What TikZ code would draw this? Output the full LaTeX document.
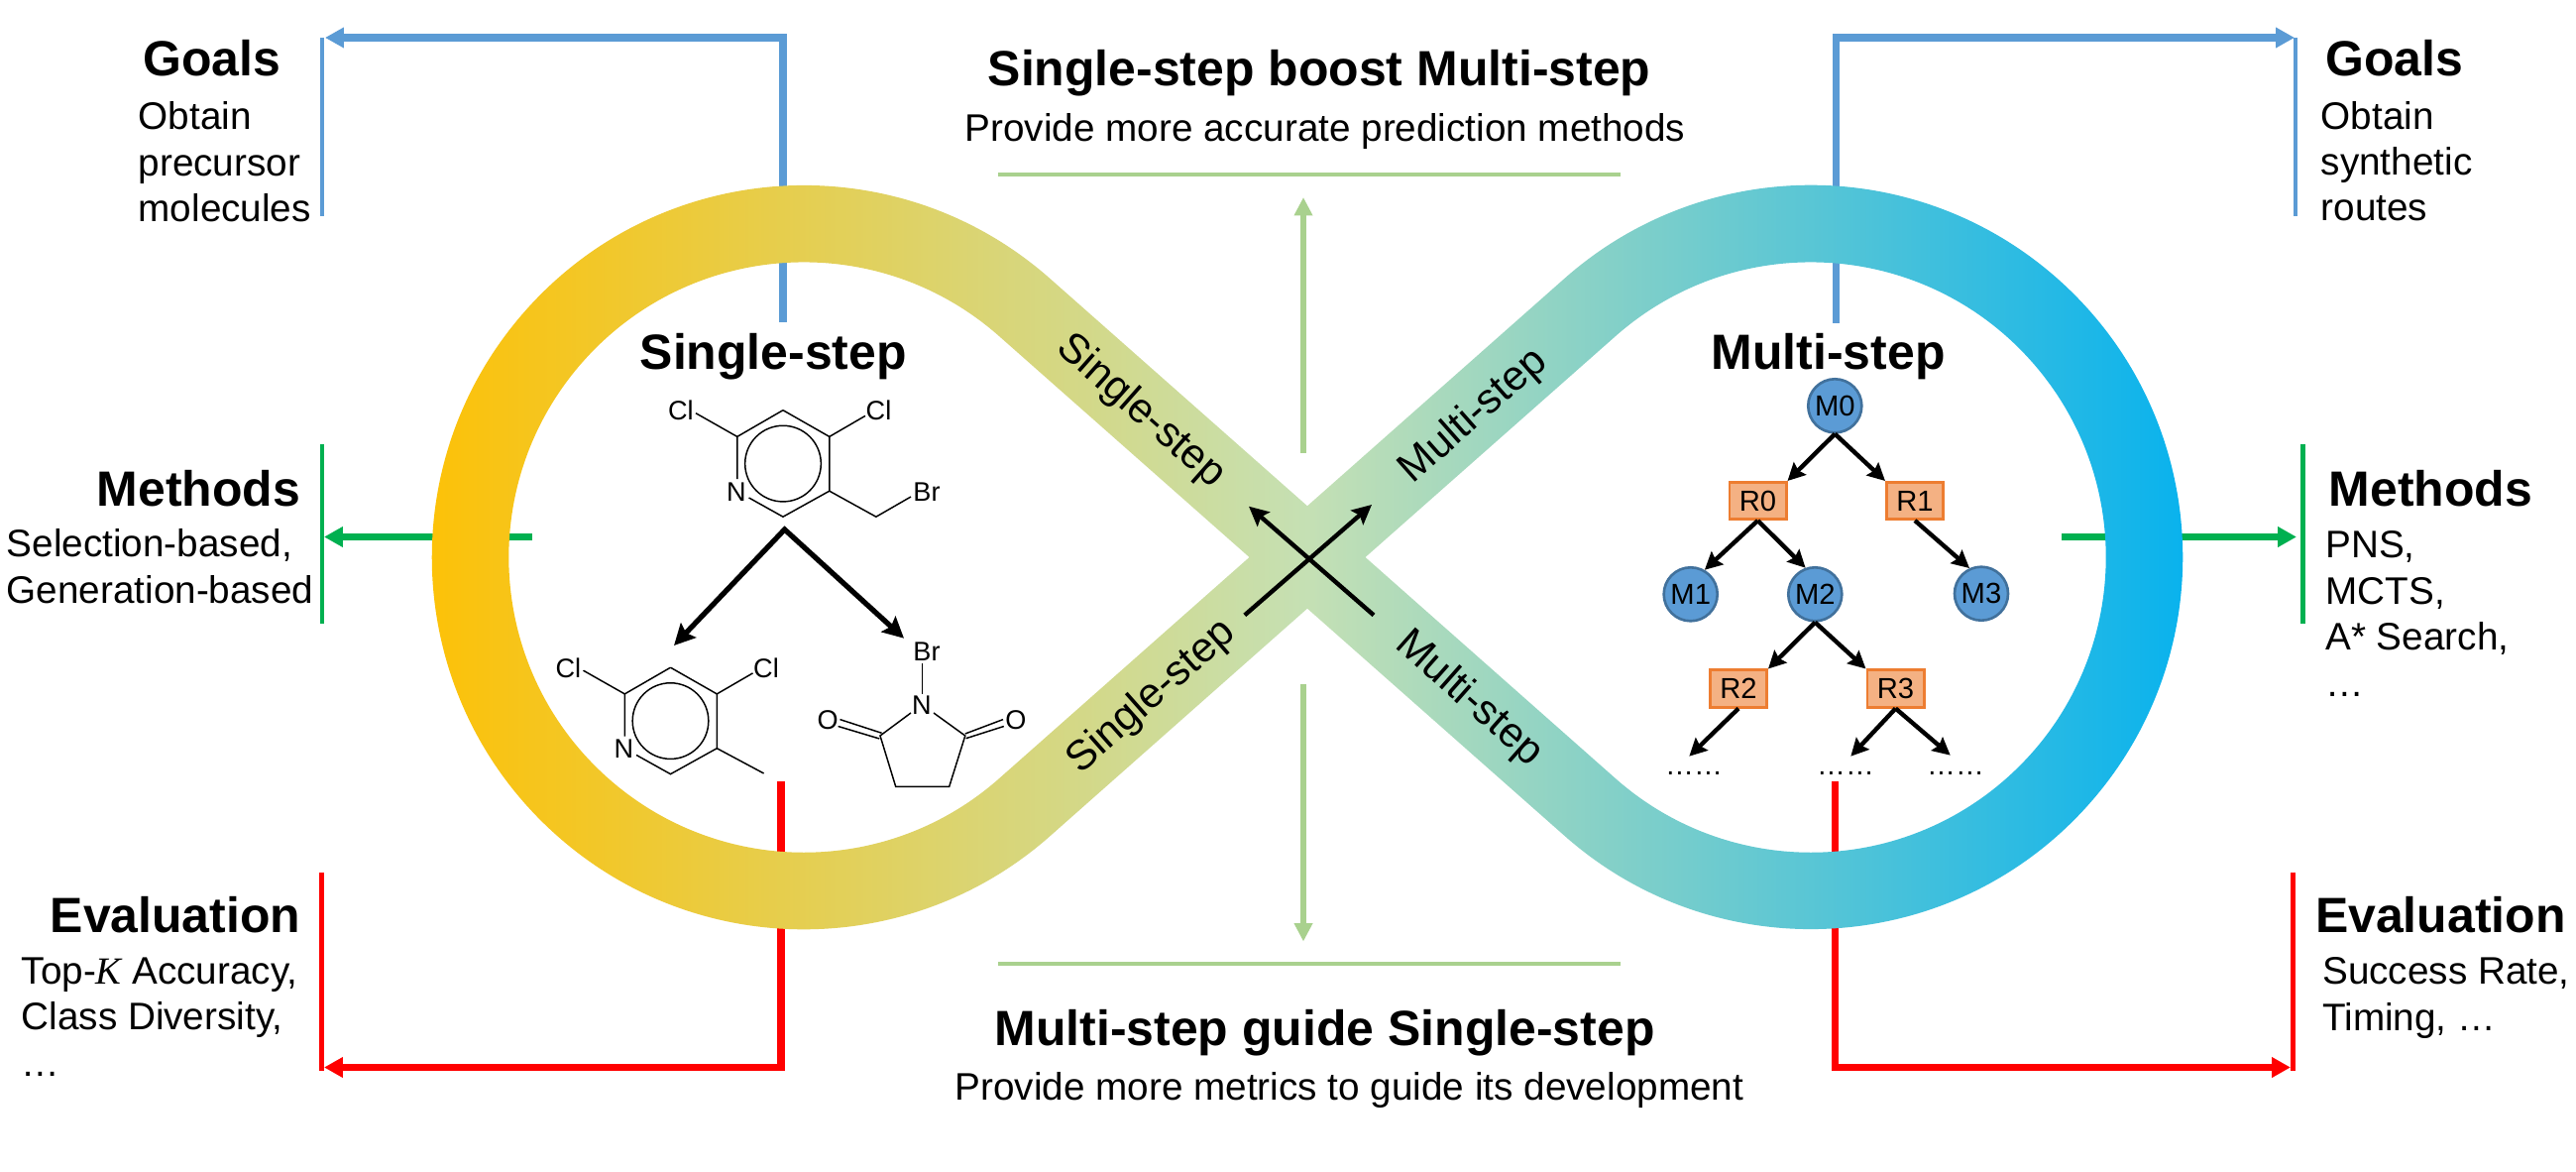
\documentclass[tikz,border=0pt]{standalone}
\usepackage{fontspec}
\setmainfont{Liberation Sans}
\newfontfamily\kfont{Liberation Serif}
\usetikzlibrary{arrows.meta,calc}
\definecolor{cblue}{HTML}{5B9BD5}
\definecolor{cgreen}{HTML}{00B050}
\definecolor{cred}{HTML}{FF0000}
\definecolor{clight}{HTML}{A9D18E}
\definecolor{bandL}{HTML}{FFC000}
\definecolor{bandM}{HTML}{C5E0B4}
\definecolor{bandR}{HTML}{00B0F0}
\definecolor{molfill}{HTML}{5B9BD5}
\definecolor{molline}{HTML}{41719C}
\definecolor{rxfill}{HTML}{F4B183}
\definecolor{rxline}{HTML}{ED7D31}
\tikzset{
  head/.style={inner sep=0pt,anchor=base west,font=\fontsize{14.2}{16}\bfseries\selectfont},
  body/.style={inner sep=0pt,anchor=base west,align=left,font=\fontsize{11}{13.22}\selectfont},
  bandtext/.style={inner sep=0pt,font=\fontsize{12}{14}\selectfont},
  atom/.style={inner sep=0pt,font=\fontsize{7.7}{9}\selectfont},
  bond/.style={line width=0.42pt,black},
  conn/.style={line width=2pt,-{Triangle[length=5.4pt,width=5.6pt]}},
  bar/.style={line width=1.4pt},
  softarrow/.style={line width=1.8pt,clight,-{Triangle[length=5.2pt,width=5pt]}},
  softbar/.style={line width=1.4pt,clight},
  rxnarrow/.style={line width=1.5pt,black,{Stealth[length=6pt,width=6pt,inset=1pt]}-{Stealth[length=6pt,width=6pt,inset=1pt]}},
  bigarrow/.style={line width=1.25pt,black,-{Stealth[length=5.6pt,width=5.4pt,inset=1pt]}},
  treearrow/.style={line width=1.25pt,black,-{Stealth[length=5pt,width=5pt,inset=0.7pt]}},
  molnode/.style={circle,draw=molline,fill=molfill,line width=0.75pt,minimum size=0.54cm,inner sep=0pt,font=\fontsize{8.3}{10}\selectfont},
  rxnode/.style={rectangle,draw=rxline,fill=rxfill,line width=0.85pt,minimum width=0.57cm,minimum height=0.37cm,inner sep=0pt,font=\fontsize{8.3}{10}\selectfont},
  dotsnode/.style={inner sep=0pt,anchor=base,font=\fontsize{8.2}{10}\selectfont},
}
\newcommand{\pyr}{%
  \draw[bond] (790,413.7) -- (836.8,440.4) -- (836.8,495.2) -- (790,521.2) -- (755.6,502);
  \draw[bond] (790,413.7) -- (743.8,440.4) -- (743.8,483);
  \draw[bond] (790,467.6) circle[radius=0.383cm];
  \draw[bond] (743.8,440.4) -- (702,416.7);
  \draw[bond] (836.8,440.4) -- (873,419.4);
  \node[atom] at (743,496) {N};
  \node[atom] at (686.8,414) {Cl};
  \node[atom] at (886.5,414) {Cl};
}
\begin{document}
\begin{tikzpicture}[x=0.01cm,y=-0.01cm]
\path[fill=white] (0,0) rectangle (2599,1182);
\useasboundingbox (0,0) rectangle (2599,1182);
% connectors under the band
\coordinate (bl0) at (790,325); \coordinate (bl1) at (790,38); \coordinate (bl2) at (328,38);
\draw[conn,cblue] (bl0) -- (bl1) -- (bl2);
\coordinate (blbT) at (325,38); \coordinate (blbB) at (325,218.5);
\draw[bar,cblue] (blbT) -- (blbB);
\coordinate (gl0) at (537,541.5); \coordinate (gl1) at (327,541.5);
\draw[conn,cgreen] (gl0) -- (gl1);
\coordinate (glbT) at (325,448); \coordinate (glbB) at (325,629);
\draw[bar,cgreen] (glbT) -- (glbB);
\coordinate (rl0) at (788,788); \coordinate (rl1) at (788,1076.5); \coordinate (rl2) at (327,1076.5);
\draw[conn,cred] (rl0) -- (rl1) -- (rl2);
\coordinate (rlbT) at (324.5,880); \coordinate (rlbB) at (324.5,1080);
\draw[bar,cred] (rlbT) -- (rlbB);
\coordinate (br0) at (1852,326); \coordinate (br1) at (1852,38); \coordinate (br2) at (2315,38);
\draw[conn,cblue] (br0) -- (br1) -- (br2);
\coordinate (brbT) at (2316,38); \coordinate (brbB) at (2316,218.5);
\draw[bar,cblue] (brbT) -- (brbB);
\coordinate (gr0) at (2080,541.5); \coordinate (gr1) at (2317,541.5);
\draw[conn,cgreen] (gr0) -- (gr1);
\coordinate (grbT) at (2323.5,448); \coordinate (grbB) at (2323.5,629);
\draw[bar,cgreen] (grbT) -- (grbB);
\coordinate (rr0) at (1851,788); \coordinate (rr1) at (1851,1076.5); \coordinate (rr2) at (2311,1076.5);
\draw[conn,cred] (rr0) -- (rr1) -- (rr2);
\coordinate (rrbT) at (2313.6,880); \coordinate (rrbB) at (2313.6,1080);
\draw[bar,cred] (rrbT) -- (rrbB);
% band
\shade[left color=bandL,right color=bandR,middle color=bandM,even odd rule]
  (1319,510.3) -- (1059.3,280.9)
  arc[start angle=48.55,end angle=311.45,radius=3.75cm]
  -- (1319,613.7) -- (1578.7,843.1)
  arc[start angle=228.55,end angle=491.45,radius=3.75cm]
  -- cycle
  (1260.5,562) -- (1008,339)
  arc[start angle=48.55,end angle=311.45,radius=2.975cm]
  -- cycle
  (1377.5,562) -- (1630,339)
  arc[start angle=131.45,end angle=-131.45,radius=2.975cm]
  -- cycle;
% band labels
\node[bandtext,rotate=-41.5] (bsu) at (1151,415) {Single-step};
\node[bandtext,rotate=41.5] (bsd) at (1162,703) {Single-step};
\node[bandtext,rotate=41.5] (bmu) at (1487,420) {Multi-step};
\node[bandtext,rotate=-41.5] (bmd) at (1482,705) {Multi-step};
% centre cross
\coordinate (xa0) at (1255.8,620.4); \coordinate (xa1) at (1384,509);
\coordinate (xb0) at (1386,620.4); \coordinate (xb1) at (1260,510.7);
\draw[bigarrow] (xa0) -- (xa1);
\draw[bigarrow] (xb0) -- (xb1);
% centre top and bottom
\node[head] (ct) at (996,87) {Single-step boost Multi-step};
\node[body] (cts) at (973,143) {Provide more accurate prediction methods};
\coordinate (lt0) at (1007,176); \coordinate (lt1) at (1635,176);
\draw[softbar] (lt0) -- (lt1);
\coordinate (at0) at (1315,457); \coordinate (at1) at (1315,199);
\draw[softarrow] (at0) -- (at1);
\coordinate (ab0) at (1315,690); \coordinate (ab1) at (1315,949.5);
\draw[softarrow] (ab0) -- (ab1);
\coordinate (lb0) at (1007,972); \coordinate (lb1) at (1635,972);
\draw[softbar] (lb0) -- (lb1);
\node[head] (cb) at (1003,1054.5) {Multi-step guide Single-step};
\node[body] (cbs) at (963,1109) {Provide more metrics to guide its development};
% left texts
\node[head] (goalsL) at (143.5,76.5) {Goals};
\node[body] (goalsLt) at (139,223.5) {Obtain\\precursor\\molecules};
\node[head] (methL) at (97,510.5) {Methods};
\node[body] (methLt) at (6,608) {Selection-based,\\Generation-based};
\node[head] (evalL) at (50,940) {Evaluation};
\node[body] (evalLt) at (21,1085) {Top-{\kfont\itshape K} Accuracy,\\Class Diversity,\\…};
% right texts
\node[head] (goalsR) at (2345.7,76.5) {Goals};
\node[body] (goalsRt) at (2341,223) {Obtain\\synthetic\\routes};
\node[head] (methR) at (2349,510.5) {Methods};
\node[body] (methRt) at (2345.7,702) {PNS,\\MCTS,\\A* Search,\\…};
\node[head] (evalR) at (2335.4,940) {Evaluation};
\node[body] (evalRt) at (2342.6,1039) {Success Rate,\\Timing, …};
% single-step panel
\node[head] (sst) at (645,372.5) {Single-step};
\pyr
\draw[bond] (836.8,495.2) -- (883.9,521.2) -- (919,501);
\node[atom] at (935,496) {Br};
\begin{scope}[shift={(-113.5,259.5)}]
\pyr
\draw[bond] (836.8,495.2) -- (884.1,520.5);
\end{scope}
\coordinate (ra) at (791.6,534); \coordinate (rl) at (680,651); \coordinate (rr) at (912,643.7);
\draw[rxnarrow] (rl) -- (ra) -- (rr);
% NBS
\node[atom] at (935,657) {Br};
\node[atom] at (930,711.4) {N};
\node[atom] at (835.2,726) {O};
\node[atom] at (1025,726) {O};
\draw[bond] (930.5,669.3) -- (930.5,700);
\draw[bond] (919,719) -- (888,742) -- (903.7,793.3) -- (957.7,793.3) -- (973.8,742) -- (942,719);
\draw[bond] (847.5,725.6) -- (889.6,739.3);
\draw[bond] (845.6,732.5) -- (887.3,745);
\draw[bond] (973.8,740) -- (1012,725.6);
\draw[bond] (974.6,744.7) -- (1012.8,732.5);
% multi-step panel
\node[head] (mst) at (1726,372.5) {Multi-step};
\node[molnode] (M0) at (1851.3,409.3) {M0};
\node[rxnode] (R0) at (1773.5,505) {R0};
\node[rxnode] (R1) at (1932,505) {R1};
\node[molnode] (M1) at (1705.7,599.3) {M1};
\node[molnode] (M2) at (1831.3,599.3) {M2};
\node[molnode] (M3) at (1999,598.7) {M3};
\node[rxnode] (R2) at (1754,694.5) {R2};
\node[rxnode] (R3) at (1912.5,694.5) {R3};
\node[dotsnode] (d1) at (1709,781) {……};
\node[dotsnode] (d2) at (1862,781) {……};
\node[dotsnode] (d3) at (1973,781) {……};
\coordinate (d1t) at (1704.3,762.7);
\coordinate (d2t) at (1867.3,762.7);
\coordinate (d3t) at (1967.7,761.7);
\draw[treearrow] (M0.south) -- (R0.north east);
\draw[treearrow] (M0.south) -- (R1.north west);
\draw[treearrow] (R0.south) -- (M1.60);
\draw[treearrow] (R0.south) -- (M2.110);
\draw[treearrow] (R1.south) -- (M3.115);
\draw[treearrow] (M2.south) -- (R2.north east);
\draw[treearrow] (M2.south) -- (R3.north west);
\draw[treearrow] (R2.south) -- (d1t);
\draw[treearrow] (R3.south) -- (d2t);
\draw[treearrow] (R3.south) -- (d3t);
\end{tikzpicture}
\end{document}
